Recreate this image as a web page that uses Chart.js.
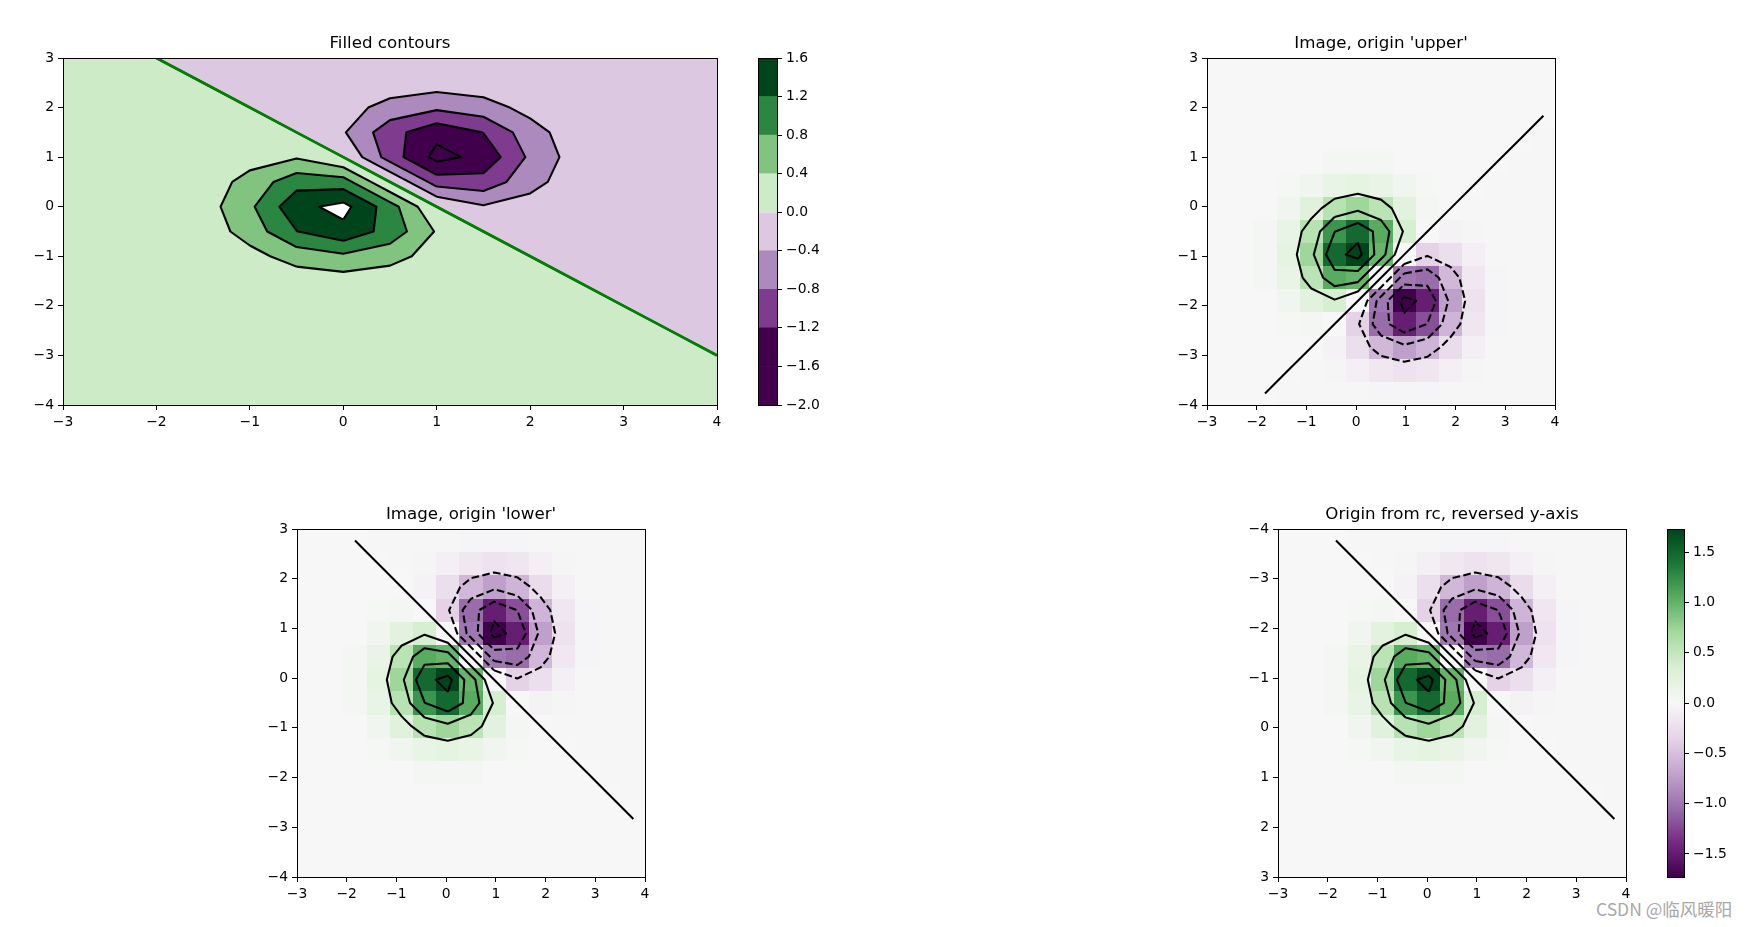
<!DOCTYPE html>
<html>
<head>
<meta charset="utf-8">
<script src="https://cdn.jsdelivr.net/npm/chart.js@4.4.1/dist/chart.umd.min.js"></script>
<style>
  html, body { margin: 0; padding: 0; background: #fff; }
  body { width: 1748px; height: 927px; position: relative; overflow: hidden; }
  canvas { position: absolute; }
  #mark { position: absolute; left: 1596px; top: 899px; font: 17.5px "Noto Sans CJK SC", sans-serif; line-height: 20px; color: #a8a8a8; white-space: nowrap; }
</style>
</head>
<body>
<div id="mark">CSDN @临风暖阳</div>
<script>
// ---- data ----
var xTicks = [-3, -2, -1, 0, 1, 2, 3, 4];
var yTicks = [-4, -3, -2, -1, 0, 1, 2, 3];
var extent = [-3, 4, -4, 3];
var gridX = [-3, -2.5, -2, -1.5, -1, -0.5, 0, 0.5, 1, 1.5, 2, 2.5, 3, 3.5, 4];
var gridY = [-4, -3.5, -3, -2.5, -2, -1.5, -1, -0.5, 0, 0.5, 1, 1.5, 2, 2.5, 3];
var levels = [-2.0, -1.6, -1.2, -0.8, -0.4, 0.0, 0.4, 0.8, 1.2, 1.6];
var bandColors = ['#40004b', '#40004b', '#7f3b8d', '#ad8abd', '#ddc8e2', '#ccebc6', '#80c480', '#2b8642', '#00441b'];
var cb2Ticks = [-1.5, -1.0, -0.5, 0.0, 0.5, 1.0, 1.5];
var prgnStops = ['#40004b', '#762a83', '#9970ab', '#c2a5cf', '#e7d4e8', '#f7f7f7', '#d9f0d3', '#a6dba0', '#5aae61', '#1b7837', '#00441b'];

// rows go along gridY (bottom to top), columns along gridX
var zGrid = [
  [0.001, 0.001, 0.001, 0.001, 0.001, 0.001, 0.001, 0.001, 0.001, 0.001, 0.001, 0.001, 0.001, 0.001, 0.001],
  [0.001, 0.001, 0.001, 0.001, 0.001, 0.001, 0.001, 0.001, 0.001, 0.001, 0.001, 0.001, 0.001, 0.001, 0.001],
  [0.001, 0.001, 0.001, 0.001, 0.001, 0.001, 0.001, 0.001, 0.001, 0.001, 0.001, 0.001, 0.001, 0.001, 0],
  [0.001, 0.001, 0.001, 0.001, 0.001, 0.003, 0.004, 0.003, 0.001, 0.001, 0.001, 0.001, 0.001, 0, -0.001],
  [0.001, 0.001, 0.001, 0.004, 0.013, 0.028, 0.037, 0.028, 0.013, 0.004, 0.001, 0.001, 0, -0.001, -0.001],
  [0.001, 0.001, 0.004, 0.022, 0.078, 0.164, 0.209, 0.161, 0.074, 0.019, 0.002, 0, -0.001, -0.001, -0.001],
  [0.001, 0.001, 0.013, 0.078, 0.270, 0.569, 0.722, 0.545, 0.234, 0.049, 0, -0.002, -0.001, -0.001, -0.001],
  [0.001, 0.003, 0.029, 0.164, 0.569, 1.191, 1.480, 1.049, 0.362, 0, -0.049, -0.019, -0.004, -0.001, -0.001],
  [0.001, 0.004, 0.037, 0.209, 0.722, 1.480, 1.729, 0.985, 0, -0.362, -0.234, -0.074, -0.013, -0.001, -0.001],
  [0.001, 0.003, 0.028, 0.161, 0.545, 1.049, 0.985, 0, -0.985, -1.049, -0.545, -0.161, -0.028, -0.003, -0.001],
  [0.001, 0.001, 0.013, 0.074, 0.234, 0.362, 0, -0.985, -1.729, -1.480, -0.722, -0.209, -0.037, -0.004, -0.001],
  [0.001, 0.001, 0.004, 0.019, 0.049, 0, -0.362, -1.049, -1.480, -1.191, -0.569, -0.164, -0.029, -0.003, -0.001],
  [0.001, 0.001, 0.001, 0.002, 0, -0.049, -0.234, -0.545, -0.722, -0.569, -0.270, -0.078, -0.013, -0.001, -0.001],
  [0.001, 0.001, 0.001, 0, -0.002, -0.019, -0.074, -0.161, -0.209, -0.164, -0.078, -0.022, -0.004, -0.001, -0.001],
  [0.001, 0.001, 0, -0.001, -0.001, -0.004, -0.013, -0.028, -0.037, -0.028, -0.013, -0.004, -0.001, -0.001, -0.001]
];

// ---- layout (plot areas in page pixels) ----
var P1 = { l: 63, t: 58, r: 717, b: 405 };
var P2 = { l: 1207, t: 58, r: 1555, b: 405 };
var P3 = { l: 297, t: 529, r: 645, b: 877 };
var P4 = { l: 1278, t: 529, r: 1626, b: 877 };
var CB1 = { l: 758, t: 58, r: 777, b: 405 };
var CB2 = { l: 1667, t: 529, r: 1684, b: 877 };
var PM = { l: 50, t: 28, r: 14, b: 30 };
var CM = { l: 10, t: 20, r: 50, b: 20 };

var FONT = 'DejaVu Sans';
var TICK_FONT = { family: FONT, size: 13.9 };
var TITLE_FONT = { family: FONT, size: 16.67, weight: 'normal' };

var zMax = Math.max.apply(null, zGrid.map(function (r) { return Math.max.apply(null, r.map(Math.abs)); }));

function hexRgb(h) {
  return [parseInt(h.substr(1, 2), 16), parseInt(h.substr(3, 2), 16), parseInt(h.substr(5, 2), 16)];
}

function prgn(t) {
  t = Math.max(0, Math.min(1, t));
  t = Math.min(255, Math.floor(t * 256)) / 255;
  var f = t * (prgnStops.length - 1);
  var k = Math.min(prgnStops.length - 2, Math.floor(f));
  var u = f - k;
  var a = hexRgb(prgnStops[k]), b = hexRgb(prgnStops[k + 1]);
  return 'rgb(' + a.map(function (v, n) { return Math.round(v + (b[n] - v) * u); }).join(',') + ')';
}

function fmtInt(v) { return v < 0 ? '\u2212' + Math.abs(v) : String(v); }
function fmt1(v) { var s = Math.abs(v).toFixed(1); return v < -1e-9 ? '\u2212' + s : s; }

// ---- marching squares ----
function corners(i, j, cx, cy) {
  return [
    { x: cx[i], y: cy[j], v: zGrid[j][i] },
    { x: cx[i + 1], y: cy[j], v: zGrid[j][i + 1] },
    { x: cx[i + 1], y: cy[j + 1], v: zGrid[j + 1][i + 1] },
    { x: cx[i], y: cy[j + 1], v: zGrid[j + 1][i] }
  ];
}

function cross(a, b, level) {
  if (a.x > b.x || (a.x === b.x && a.y > b.y)) { var tmp = a; a = b; b = tmp; }
  var t = (level - a.v) / (b.v - a.v);
  return { x: a.x + t * (b.x - a.x), y: a.y + t * (b.y - a.y) };
}

function cellPart(c, level) {
  var out = [];
  for (var k = 0; k < 4; k++) {
    var a = c[k], b = c[(k + 1) % 4];
    if (a.v > level) out.push(a);
    if ((a.v > level) !== (b.v > level)) out.push(cross(a, b, level));
  }
  return out;
}

function keyOf(p) { return p.x.toFixed(5) + ',' + p.y.toFixed(5); }

function joinSegments(segs) {
  segs = segs.filter(function (s) { return keyOf(s[0]) !== keyOf(s[1]); });
  var used = segs.map(function () { return false; });
  var ends = {};
  segs.forEach(function (s, k) {
    s.forEach(function (p) { var key = keyOf(p); (ends[key] = ends[key] || []).push(k); });
  });
  function grow(line) {
    for (;;) {
      var key = keyOf(line[line.length - 1]), next = -1;
      (ends[key] || []).forEach(function (k) { if (next < 0 && !used[k]) next = k; });
      if (next < 0) return;
      used[next] = true;
      var s = segs[next];
      line.push(keyOf(s[0]) === key ? s[1] : s[0]);
    }
  }
  var lines = [];
  for (var k = 0; k < segs.length; k++) {
    if (used[k]) continue;
    used[k] = true;
    var line = [segs[k][0], segs[k][1]];
    grow(line);
    line.reverse();
    grow(line);
    lines.push(line);
  }
  return lines;
}

function contourLines(cx, cy, level) {
  var segs = [];
  for (var j = 0; j < cy.length - 1; j++) {
    for (var i = 0; i < cx.length - 1; i++) {
      var c = corners(i, j, cx, cy);
      var pts = [];
      for (var k = 0; k < 4; k++) {
        var a = c[k], b = c[(k + 1) % 4];
        if ((a.v > level) !== (b.v > level)) pts.push(cross(a, b, level));
      }
      if (pts.length === 2) segs.push([pts[0], pts[1]]);
      else if (pts.length === 4) {
        var mid = (c[0].v + c[1].v + c[2].v + c[3].v) / 4;
        if ((mid > level) === (c[0].v > level)) { segs.push([pts[0], pts[1]]); segs.push([pts[2], pts[3]]); }
        else { segs.push([pts[3], pts[0]]); segs.push([pts[1], pts[2]]); }
      }
    }
  }
  return joinSegments(segs);
}

function lineSets(cx, cy, lvls, style) {
  var out = [];
  lvls.forEach(function (lv) {
    contourLines(cx, cy, lv).forEach(function (line) {
      out.push(Object.assign({
        data: line, showLine: true, pointRadius: 0, pointHoverRadius: 0,
        fill: false, tension: 0, borderJoinStyle: 'round'
      }, style(lv)));
    });
  });
  return out;
}

// image pixel centres (imshow with extent)
var dxImg = (extent[1] - extent[0]) / gridX.length;
var dyImg = (extent[3] - extent[2]) / gridY.length;
var imgX = gridX.map(function (v, i) { return extent[0] + (i + 0.5) * dxImg; });
var imgYLower = gridY.map(function (v, j) { return extent[2] + (j + 0.5) * dyImg; });
var imgYUpper = gridY.map(function (v, j) { return extent[3] - (j + 0.5) * dyImg; });

// ---- drawing helpers ----
function fieldPlugin(draw) {
  return {
    id: 'field',
    beforeDatasetsDraw: function (chart) {
      var ctx = chart.ctx, a = chart.chartArea;
      ctx.save();
      ctx.beginPath();
      ctx.rect(a.left, a.top, a.right - a.left, a.bottom - a.top);
      ctx.clip();
      if (draw) draw(chart, ctx);
      ctx.restore();
    },
    afterDatasetsDraw: function (chart) {
      var ctx = chart.ctx, a = chart.chartArea;
      ctx.save();
      ctx.strokeStyle = '#000';
      ctx.lineWidth = 1;
      ctx.strokeRect(a.left + 0.5, a.top + 0.5, a.right - a.left, a.bottom - a.top);
      ctx.restore();
    }
  };
}

function drawFilled(chart, ctx) {
  var sx = chart.scales.x, sy = chart.scales.y;
  for (var k = 0; k < levels.length; k++) {
    ctx.beginPath();
    for (var j = 0; j < gridY.length - 1; j++) {
      for (var i = 0; i < gridX.length - 1; i++) {
        var poly = cellPart(corners(i, j, gridX, gridY), levels[k]);
        if (poly.length < 3) continue;
        poly.forEach(function (p, n) {
          var px = sx.getPixelForValue(p.x), py = sy.getPixelForValue(p.y);
          if (n === 0) ctx.moveTo(px, py); else ctx.lineTo(px, py);
        });
        ctx.closePath();
      }
    }
    ctx.fillStyle = k < bandColors.length ? bandColors[k] : '#ffffff';
    ctx.fill();
  }
}

function drawImage(origin) {
  return function (chart, ctx) {
    var sx = chart.scales.x, sy = chart.scales.y;
    for (var j = 0; j < gridY.length; j++) {
      for (var i = 0; i < gridX.length; i++) {
        var x0 = extent[0] + i * dxImg, x1 = x0 + dxImg;
        var y0 = origin === 'lower' ? extent[2] + j * dyImg : extent[3] - j * dyImg;
        var y1 = origin === 'lower' ? y0 + dyImg : y0 - dyImg;
        var px0 = Math.round(sx.getPixelForValue(x0)), px1 = Math.round(sx.getPixelForValue(x1));
        var py0 = Math.round(sy.getPixelForValue(y0)), py1 = Math.round(sy.getPixelForValue(y1));
        ctx.fillStyle = prgn((zGrid[j][i] + zMax) / (2 * zMax));
        ctx.fillRect(Math.min(px0, px1), Math.min(py0, py1), Math.abs(px1 - px0), Math.abs(py1 - py0));
      }
    }
  };
}

function makeCanvas(rect, m) {
  var c = document.createElement('canvas');
  var w = rect.r - rect.l + m.l + m.r, h = rect.b - rect.t + m.t + m.b;
  c.width = w; c.height = h;
  c.style.left = (rect.l - m.l) + 'px';
  c.style.top = (rect.t - m.t) + 'px';
  c.style.width = w + 'px';
  c.style.height = h + 'px';
  document.body.appendChild(c);
  return c;
}

function linAxis(pos, min, max, ticks, fmt, size, reverse) {
  return {
    type: 'linear', position: pos, min: min, max: max, reverse: !!reverse,
    afterBuildTicks: function (s) { s.ticks = ticks.map(function (v) { return { value: v }; }); },
    afterFit: function (s) { if (s.isHorizontal()) s.height = size; else s.width = size; },
    ticks: { callback: fmt, font: TICK_FONT, color: '#000', padding: 4, autoSkip: false, maxRotation: 0, minRotation: 0 },
    grid: { display: true, drawOnChartArea: false, drawTicks: true, tickLength: 5, tickWidth: 1, color: '#000' },
    border: { display: false }
  };
}

function panel(rect, title, datasets, yReverse, draw) {
  return new Chart(makeCanvas(rect, PM), {
    type: 'scatter',
    data: { datasets: datasets },
    options: {
      responsive: false, animation: false, devicePixelRatio: 1, events: [],
      layout: { padding: { left: 0, top: 0, right: PM.r, bottom: 0 } },
      plugins: {
        legend: { display: false },
        tooltip: { enabled: false },
        title: { display: true, text: title, font: TITLE_FONT, color: '#000', fullSize: false, padding: { top: 4, bottom: 4 } }
      },
      scales: {
        x: linAxis('bottom', extent[0], extent[1], xTicks, fmtInt, PM.b),
        y: linAxis('left', extent[2], extent[3], yTicks, fmtInt, PM.l, yReverse)
      }
    },
    plugins: [fieldPlugin(draw)]
  });
}

function colorbar(rect, datasets, min, max, ticks) {
  return new Chart(makeCanvas(rect, CM), {
    type: 'bar',
    data: { labels: [''], datasets: datasets },
    options: {
      responsive: false, animation: false, devicePixelRatio: 1, events: [],
      layout: { padding: { left: CM.l, top: CM.t, right: 0, bottom: CM.b } },
      plugins: { legend: { display: false }, tooltip: { enabled: false } },
      scales: {
        x: { display: false },
        y: linAxis('right', min, max, ticks, fmt1, CM.r)
      }
    },
    plugins: [fieldPlugin(null)]
  });
}

// ---- panel 1: filled contours ----
var p1Sets = lineSets(gridX, gridY, [0], function () {
  return { borderColor: '#008000', borderWidth: 2.78, order: 0 };
}).concat(lineSets(gridX, gridY, levels, function () {
  return { borderColor: '#000', borderWidth: 2.08, order: 1 };
}));
panel(P1, 'Filled contours', p1Sets, false, drawFilled);

colorbar(CB1, bandColors.map(function (col, k) {
  return { data: [[levels[k], levels[k + 1]]], backgroundColor: col, borderWidth: 0, grouped: false, barPercentage: 1, categoryPercentage: 1 };
}), levels[0], levels[levels.length - 1], levels);

// ---- image panels ----
function imgStyle(lv) {
  return { borderColor: '#000', borderWidth: 2.08, borderDash: lv < 0 ? [7.7, 3.3] : [] };
}
panel(P2, "Image, origin 'upper'", lineSets(imgX, imgYUpper, levels, imgStyle), false, drawImage('upper'));
panel(P3, "Image, origin 'lower'", lineSets(imgX, imgYLower, levels, imgStyle), false, drawImage('lower'));
panel(P4, 'Origin from rc, reversed y-axis', lineSets(imgX, imgYUpper, levels, imgStyle), true, drawImage('upper'));

colorbar(CB2, [{
  data: [[-zMax, zMax]], borderWidth: 0, barPercentage: 1, categoryPercentage: 1,
  backgroundColor: function (c) {
    var ch = c.chart;
    if (!ch.chartArea) return '#f7f7f7';
    var ys = ch.scales.y;
    var g = ch.ctx.createLinearGradient(0, ys.getPixelForValue(-zMax), 0, ys.getPixelForValue(zMax));
    prgnStops.forEach(function (col, n) { g.addColorStop(n / (prgnStops.length - 1), col); });
    return g;
  }
}], -zMax, zMax, cb2Ticks);
</script>
</body>
</html>
